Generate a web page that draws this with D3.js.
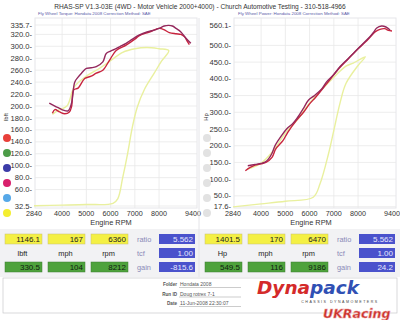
<!DOCTYPE html>
<html>
<head>
<meta charset="utf-8">
<script src="https://cdn.jsdelivr.net/npm/d3@7"></script>
<style>
  body { margin: 0; background: #fff; }
  svg { display: block; font-family: "Liberation Sans", Arial, sans-serif; }
</style>
</head>
<body>
<div id="chart"></div>
<script>
// ---- data ----
const rpmTicks = [2840, 4000, 5000, 6000, 7000, 8000, 9400];
const torqueTicks = [32.5, 60, 80, 100, 120, 140, 160, 180, 200, 220, 240, 260, 280, 300, 320, 335.7];
const powerTicks = [17.6, 50, 100, 150, 200, 250, 300, 350, 400, 450, 500, 560.1];

// torque, run A (purple red)
const torqueRpmA = [3470, 3700, 3900, 4050, 4250, 4390, 4520, 4650, 4800, 5000, 5200, 5410, 5680, 5820, 6000, 6160, 6400, 6640, 6900, 7190, 7500, 7870, 8050, 8210, 8400, 8550, 8700, 8900, 9100, 9310];
const torqueA = [205, 200, 196, 193, 192, 205, 240, 248, 255, 263, 264, 266, 274, 288, 292, 295, 300, 305, 312, 319, 324, 328, 331, 334, 335, 334, 330, 324, 314, 305];
// torque, run B (crimson)
const torqueRpmB = [3600, 3700, 3900, 4110, 4300, 4390, 4480, 4660, 4930, 5200, 5410, 5680, 5960, 6230, 6640, 7000, 7190, 7600, 8010, 8200, 8420, 8700, 8900, 9050, 9170, 9250];
const torqueB = [188, 194, 190, 187, 190, 199, 227, 230, 246, 250, 255, 260, 277, 293, 302, 312, 318, 324, 330, 328, 323, 321, 320, 316, 308, 303];
// torque, previous run (yellow) incl. run-down
const torqueRpmC = [3600, 3800, 4200, 4500, 5000, 5500, 6000, 6500, 7000, 7500, 8000, 8400, 8100, 7800, 7400, 7100, 6900, 6700, 6500, 6300, 6100, 5000, 4000, 2840];
const torqueC = [186, 192, 200, 232, 250, 262, 276, 290, 296, 298, 296, 293, 275, 255, 228, 198, 165, 120, 80, 45, 37, 35, 34, 33];

// power, run A
const powerRpmA = [3450, 3750, 4000, 4160, 4300, 4440, 4580, 4850, 5060, 5300, 5470, 5740, 5950, 6220, 6500, 6700, 7000, 7250, 7600, 7940, 8200, 8490, 8650, 8770, 8970, 9150, 9320];
const powerA = [140, 144, 147, 151, 160, 176, 201, 231, 251, 266, 281, 311, 336, 351, 370, 391, 413, 436, 461, 486, 505, 526, 540, 552, 558, 555, 546];
// power, run B
const powerRpmB = [3350, 3550, 3750, 4000, 4200, 4450, 4600, 4900, 5100, 5450, 5750, 6000, 6250, 6700, 7200, 7600, 8000, 8300, 8500, 8700, 8900, 9100, 9250, 9400];
const powerB = [125, 135, 142, 146, 150, 165, 190, 215, 240, 275, 300, 325, 345, 385, 430, 460, 490, 510, 525, 540, 548, 550, 545, 543];
// power, previous run (yellow)
const powerRpmC = [3450, 4000, 4500, 5000, 5500, 6000, 6500, 7000, 7500, 7800, 8300, 8000, 7500, 7250, 7000, 6780, 6430, 6150, 5000, 4000, 2840];
const powerC = [130, 148, 185, 238, 278, 328, 368, 405, 438, 447, 466, 440, 386, 326, 246, 176, 86, 46, 34, 26, 17];

// readout boxes
const topValues = [["1146.1", "167", "6360"], ["1401.5", "170", "6470"]];
const unitLabels = [["lbft", "mph", "rpm"], ["Hp", "mph", "rpm"]];
const peakValues = [["330.5", "104", "8212"], ["549.5", "116", "9186"]];
const sideLabels = ["ratio", "tcf", "gain"];
const sideValues = [["5.562", "1.00", "-815.6"], ["5.562", "1.00", "24.2"]];

const legendColors = ["#e8403a", "#4c9c48", "#3c3ca8", "#d8206c", "#56a8e8", "#f4ee30"];
const runInfo = [["Folder", "Hondata 2008"], ["Run ID", "Doug rotrex 7-1"], ["Date", "11-Jun-2008  22:30:07"]];

// ---- drawing ----
const width = 400, height = 320;
const svg = d3.select("#chart").append("svg")
  .attr("width", width)
  .attr("height", height);

svg.append("text")
  .attr("x", 200).attr("y", 9)
  .attr("text-anchor", "middle")
  .style("font-size", "6.6px").style("fill", "#333")
  .text("RHAS-SP V1.3-03E  (4WD - Motor Vehicle 2000+4000) - Church Automotive Testing - 310-518-4966");

const panels = [
  { x0: 34, x1: 193, y0: 25, y1: 206, ticks: torqueTicks, title: "lbft", legend: legendColors,
    sub: "Fly Wheel Torque: Hondata 2008        Correction Method: SAE",
    runs: [[torqueRpmC, torqueC, "#e9f09e"], [torqueRpmB, torqueB, "#c8243e"], [torqueRpmA, torqueA, "#94285c"]] },
  { x0: 233, x1: 392, y0: 25.3, y1: 206.7, ticks: powerTicks, title: "Hp", legend: null,
    sub: "Fly Wheel Power: Hondata 2008        Correction Method: SAE",
    runs: [[powerRpmC, powerC, "#e9f09e"], [powerRpmB, powerB, "#c8243e"], [powerRpmA, powerA, "#94285c"]] }
];

panels.forEach((p, pi) => {
  const off = pi * 200;
  const x = d3.scaleLinear().domain([2840, 9400]).range([p.x0, p.x1]);
  const y = d3.scaleLinear().domain([p.ticks[0], p.ticks[p.ticks.length - 1]]).range([p.y1, p.y0]);
  const g = svg.append("g");

  g.append("text")
    .attr("x", off + 38).attr("y", 15)
    .style("font-size", "4.4px").style("fill", "#5a5aa8")
    .text(p.sub);

  // plot background
  g.append("rect")
    .attr("x", p.x0 + 1).attr("y", 18)
    .attr("width", p.x1 - p.x0 + 3).attr("height", 190)
    .attr("fill", "#fff").attr("stroke", "#e6e6ea");

  // grid
  g.selectAll(".hg").data(p.ticks).enter().append("line")
    .attr("x1", p.x0 + 1).attr("x2", p.x1 + 4)
    .attr("y1", d => y(d)).attr("y2", d => y(d))
    .attr("stroke", "#e8e8e8").attr("stroke-width", 0.8);
  g.selectAll(".vg").data(rpmTicks.slice(1, -1)).enter().append("line")
    .attr("x1", d => x(d)).attr("x2", d => x(d))
    .attr("y1", 18).attr("y2", 208)
    .attr("stroke", "#e8e8e8").attr("stroke-width", 0.8);

  // y tick labels
  g.selectAll(".yl").data(p.ticks).enter().append("text")
    .attr("x", p.x0 - 2).attr("y", d => y(d) + 2.6)
    .attr("text-anchor", "end")
    .style("font-size", "7.6px").style("fill", "#333")
    .text(d => d.toFixed(1) + "-");

  // x tick labels
  g.selectAll(".xl").data(rpmTicks).enter().append("text")
    .attr("x", d => x(d)).attr("y", 216)
    .attr("text-anchor", "middle")
    .style("font-size", "7.2px").style("fill", "#333")
    .text(d => d);

  g.append("text")
    .attr("x", off + 111).attr("y", 225)
    .attr("text-anchor", "middle")
    .style("font-size", "7.4px").style("fill", "#333")
    .text("Engine RPM");

  g.append("text")
    .attr("transform", `translate(${off + 8},117) rotate(-90)`)
    .attr("text-anchor", "middle")
    .style("font-size", "6px").style("fill", "#333")
    .text(p.title);

  // legend dots
  d3.range(6).forEach(i => {
    g.append("circle")
      .attr("cx", off + 7).attr("cy", 138 + i * 15)
      .attr("r", 4)
      .attr("fill", p.legend ? p.legend[i] : "#e2e2e2");
  });

  // traces
  const line = d3.line()
    .x(d => x(d[0])).y(d => y(d[1]))
    .curve(d3.curveCatmullRom.alpha(0.5));
  p.runs.forEach(([rpm, vals, col]) => {
    g.append("path")
      .datum(d3.zip(rpm, vals))
      .attr("d", line)
      .attr("fill", "none")
      .attr("stroke", col)
      .attr("stroke-width", 1.4);
  });
});

// readout area
svg.append("rect").attr("x", 0).attr("y", 229).attr("width", 400).attr("height", 48).attr("fill", "#f2f2f4");
svg.append("line").attr("x1", 199).attr("x2", 199).attr("y1", 18).attr("y2", 277).attr("stroke", "#e4e4e8");

const boxX = [5, 48, 91];
const boxW = 37;
[0, 1].forEach(pi => {
  const off = pi * 200;
  topValues[pi].forEach((v, i) => {
    svg.append("rect").attr("x", off + boxX[i]).attr("y", 234).attr("width", boxW).attr("height", 10)
      .attr("fill", "#f4f044").attr("stroke", "#c8c070").attr("stroke-width", 0.5);
    svg.append("text").attr("x", off + boxX[i] + boxW - 2).attr("y", 242)
      .attr("text-anchor", "end").style("font-size", "8px").style("fill", "#222").text(v);
  });
  unitLabels[pi].forEach((v, i) => {
    svg.append("text").attr("x", off + boxX[i] + boxW / 2 - 1).attr("y", 256)
      .attr("text-anchor", "middle").style("font-size", "7.4px").style("fill", "#222").text(v);
  });
  peakValues[pi].forEach((v, i) => {
    svg.append("rect").attr("x", off + boxX[i]).attr("y", 262).attr("width", boxW).attr("height", 10)
      .attr("fill", "#4ea23c").attr("stroke", "#3c7c30").attr("stroke-width", 0.5);
    svg.append("text").attr("x", off + boxX[i] + boxW - 2).attr("y", 270)
      .attr("text-anchor", "end").style("font-size", "8px").style("fill", "#102010").text(v);
  });
  sideLabels.forEach((v, i) => {
    svg.append("text").attr("x", off + 137).attr("y", 242 + i * 14)
      .style("font-size", "7.4px").style("fill", "#8a8ab8").text(v);
    svg.append("rect").attr("x", off + 159).attr("y", 234 + i * 14).attr("width", 36).attr("height", 10)
      .attr("fill", "#4a52cc");
    svg.append("text").attr("x", off + 193).attr("y", 242 + i * 14)
      .attr("text-anchor", "end").style("font-size", "8px").style("fill", "#e8e8ff").text(sideValues[pi][i]);
  });
});

// run info panel
svg.append("rect").attr("x", 3).attr("y", 278).attr("width", 394).attr("height", 35)
  .attr("fill", "#fff").attr("stroke", "#c8c8cc").attr("stroke-width", 0.7);
runInfo.forEach(([k, v], i) => {
  const yy = 286 + i * 9.5;
  svg.append("text").attr("x", 177).attr("y", yy).attr("text-anchor", "end")
    .style("font-size", "4.6px").style("font-weight", "bold").style("fill", "#555").text(k);
  svg.append("text").attr("x", 180).attr("y", yy)
    .style("font-size", "5px").style("fill", "#555").text(v);
  svg.append("line").attr("x1", 179).attr("x2", 241).attr("y1", yy + 1.5).attr("y2", yy + 1.5)
    .attr("stroke", "#999").attr("stroke-width", 0.5);
});

// logo
const logo = svg.append("text").attr("x", 257).attr("y", 294)
  .style("font-size", "18.5px").style("font-weight", "bold").style("font-style", "italic")
  .style("font-family", "'DejaVu Sans', sans-serif")
  .attr("stroke", "#fff").attr("stroke-width", 0.6).attr("paint-order", "stroke");
logo.append("tspan").attr("fill", "#d42a2a").text("Dyna");
logo.append("tspan").attr("fill", "#3050b4").text("pack");
svg.append("text").attr("x", 340).attr("y", 302.5).attr("text-anchor", "middle")
  .style("font-size", "3.6px").style("fill", "#444").style("letter-spacing", "1.5px")
  .text("CHASSIS  DYNAMOMETERS");
svg.append("text").attr("x", 323).attr("y", 318)
  .style("font-size", "12.5px").style("font-weight", "bold").style("font-style", "italic")
  .style("font-family", "'DejaVu Sans', sans-serif")
  .attr("fill", "#c8302a").attr("stroke", "#f0a0a0").attr("stroke-width", 0.5)
  .text("UKRacing");
</script>
</body>
</html>
